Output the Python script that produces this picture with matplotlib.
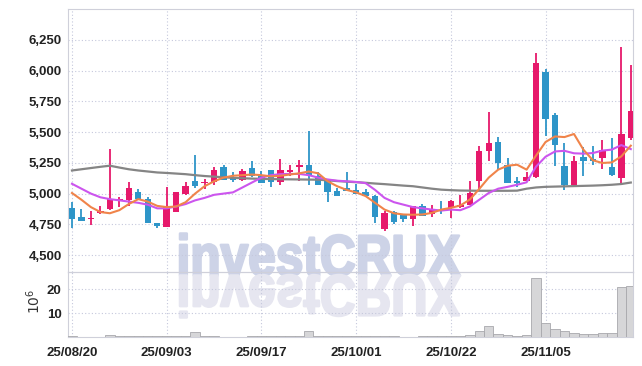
import numpy as np
import matplotlib
matplotlib.use("Agg")
from matplotlib import pyplot as plt
from matplotlib.textpath import TextPath
from matplotlib.patches import PathPatch
from matplotlib.font_manager import FontProperties
from matplotlib.transforms import Affine2D

# daily candles (KRW)
opens = [4886, 4813, 4797, 4845, 4878, 4937, 4946, 5016, 4959, 4764,
         4732, 4848, 5000, 5106, 5090, 5092, 5219, 5130, 5114, 5206,
         5146, 5195, 5092, 5173, 5214, 5230, 5141, 5114, 5024, 5046,
         5032, 5011, 4978, 4716, 4851, 4829, 4794, 4903, 4835, 4865,
         4886, 4892, 4911, 5106, 5344, 5417, 5235, 5100, 5100, 5133,
         5993, 5641, 5227, 5068, 5298, 5284, 5290, 5219, 5127, 5452]
closes = [4797, 4781, 4805, 4855, 4960, 4953, 5049, 4960, 4764, 4740,
          4894, 5011, 5060, 5065, 5097, 5195, 5114, 5114, 5187, 5141,
          5087, 5092, 5195, 5195, 5230, 5154, 5068, 5011, 4978, 5019,
          4997, 4978, 4808, 4843, 4767, 4791, 4903, 4821, 4876, 4857,
          4943, 4911, 5008, 5349, 5409, 5249, 5087, 5084, 5138, 6066,
          5611, 5398, 5068, 5268, 5262, 5268, 5357, 5154, 5487, 5676]
highs = [4935, 4878, 4862, 4897, 5365, 4976, 5097, 5041, 4976, 4764,
         5057, 5011, 5097, 5317, 5122, 5220, 5230, 5179, 5203, 5268,
         5181, 5195, 5282, 5235, 5276, 5506, 5176, 5114, 5046, 5176,
         5079, 5041, 4985, 4860, 4860, 4829, 4903, 4915, 4905, 4943,
         4950, 4992, 5100, 5384, 5663, 5460, 5290, 5135, 5176, 6142,
         6015, 5654, 5412, 5303, 5376, 5384, 5438, 5452, 6191, 6047]
lows = [4724, 4778, 4748, 4830, 4870, 4894, 4903, 4950, 4764, 4724,
        4732, 4848, 4985, 5049, 5041, 5073, 5114, 5097, 5106, 5133,
        5087, 5051, 5073, 5141, 5100, 5073, 5068, 4933, 4978, 5019,
        4997, 4978, 4762, 4694, 4755, 4765, 4740, 4821, 4810, 4838,
        4803, 4885, 4911, 5032, 5268, 5189, 5087, 5054, 5100, 5125,
        5465, 5227, 5032, 5068, 5141, 5230, 5200, 5141, 5068, 5440]

# moving averages as drawn
ma_short = [5005, 4950, 4890, 4850, 4840, 4865, 4915, 4955, 4935, 4900,
            4890, 4895, 4930, 5000, 5060, 5100, 5130, 5145, 5150, 5155,
            5150, 5140, 5145, 5155, 5165, 5180, 5165, 5100, 5060, 5030,
            5010, 4980, 4925, 4870, 4840, 4830, 4828, 4830, 4843, 4870,
            4884, 4903, 4951, 5038, 5130, 5195, 5227, 5235, 5195, 5310,
            5420, 5465, 5460, 5485, 5357, 5271, 5249, 5254, 5303, 5390]
ma_mid = [5080, 5040, 5000, 4970, 4955, 4945, 4935, 4925, 4910, 4880,
          4880, 4895, 4915, 4945, 4965, 4990, 5000, 5010, 5050, 5090,
          5130, 5150, 5158, 5160, 5160, 5150, 5130, 5115, 5105, 5100,
          5095, 5085, 5030, 4965, 4930, 4910, 4890, 4880, 4870, 4862,
          4870, 4865, 4895, 4950, 5005, 5040, 5055, 5072, 5092, 5220,
          5300, 5343, 5348, 5328, 5325, 5330, 5350, 5358, 5395, 5362]
ma_long = [5188, 5198, 5208, 5218, 5227, 5212, 5198, 5188, 5180, 5172,
           5168, 5163, 5158, 5150, 5143, 5138, 5133, 5128, 5125, 5122,
           5120, 5118, 5117, 5116, 5115, 5114, 5113, 5108, 5102, 5097,
           5093, 5088, 5082, 5077, 5071, 5065, 5060, 5050, 5040, 5032,
           5028, 5025, 5024, 5023, 5023, 5023, 5023, 5024, 5040, 5050,
           5055, 5057, 5059, 5061, 5063, 5065, 5068, 5072, 5078, 5090]

# volume, millions of shares
volumes = [0.3, 0.2, 0.2, 0.2, 0.9, 0.3, 0.3, 0.3, 0.4, 0.3,
           0.6, 0.4, 0.3, 2.2, 0.3, 0.3, 0.2, 0.2, 0.2, 0.3,
           0.3, 0.3, 0.6, 0.3, 0.4, 2.5, 0.5, 0.5, 0.6, 0.4,
           0.6, 0.3, 0.6, 0.4, 0.3, 0.2, 0.2, 0.3, 0.3, 0.3,
           0.4, 0.6, 0.9, 2.5, 4.6, 1.2, 0.8, 0.5, 0.8, 24.4,
           6.0, 3.3, 2.5, 1.6, 1.3, 1.3, 1.7, 1.7, 20.7, 21.2]

tick_pos = [0, 10, 20, 30, 40, 50]
tick_labels = ["25/08/20", "25/09/03", "25/09/17", "25/10/01", "25/10/22", "25/11/05"]
price_ticks = [4500, 4750, 5000, 5250, 5500, 5750, 6000, 6250]

UP = "#e6196b"
DOWN = "#2e95c8"
GRID = "#c5c8dc"
tick_font = {"family": ["Liberation Sans", "DejaVu Sans"], "weight": "bold"}

x = np.arange(len(opens))
o = np.array(opens)
c = np.array(closes)
colors = [UP if cc >= oo else DOWN for oo, cc in zip(o, c)]

fig = plt.figure(figsize=(6.42, 3.66), dpi=100)
ax = fig.add_axes([0.1059, 0.2568, 0.8796, 0.7186])
axv = fig.add_axes([0.1059, 0.0792, 0.8796, 0.1776], sharex=ax)
for a in (ax, axv):
    a.set_facecolor("none")
    for s in a.spines.values():
        s.set_color("#cfd0da")
        s.set_linewidth(0.8)
    a.grid(True, linestyle=(0, (1, 2)), color=GRID, linewidth=0.8)
    a.set_axisbelow(True)
    a.tick_params(length=0, labelsize=9.5, labelcolor="#222222")

# candles
ax.vlines(x, lows, highs, colors=colors, linewidth=1.3, zorder=3)
body = np.maximum(np.abs(c - o), 8)
ax.bar(x, body, bottom=np.minimum(o, c), width=0.68, color=colors, linewidth=0, zorder=3)

ax.plot(x, ma_long, color="#858585", linewidth=1.6, zorder=4)
ax.plot(x, ma_mid, color="#cc55ee", linewidth=1.5, zorder=4)
ax.plot(x, ma_short, color="#f0844a", linewidth=1.5, zorder=4)

ax.set_ylim(4362, 6502)
ax.set_yticks(price_ticks)
ax.set_yticklabels(["{:,}".format(p) for p in price_ticks], fontdict=tick_font)
ax.tick_params(axis="y", pad=4.5)
ax.tick_params(axis="x", labelbottom=False)

axv.bar(x, volumes, width=1.0, color="#d6d6d8", edgecolor="#a8a8ac", linewidth=0.6, zorder=3)
axv.set_ylim(0, 27.1)
axv.set_yticks([10, 20])
axv.set_yticklabels(["10", "20"], fontdict=tick_font)
axv.tick_params(axis="y", pad=4.5)
axv.set_xlim(-0.42, 59.2)
axv.set_xticks(tick_pos)
axv.set_xticklabels(tick_labels, fontdict=tick_font)
axv.tick_params(axis="x", pad=7)
fig.text(0.052, 0.177, r"$10^6$", rotation=90, fontsize=10, color="#333333",
         ha="center", va="center", family="DejaVu Serif")

# watermark with reflection
tp = TextPath((0, 0), "investCRUX", size=100,
              prop=FontProperties(family="Liberation Sans", weight="bold"))
bb = tp.get_extents()
sx = (4.60 - 1.80) / bb.width
sy = 0.42 / bb.y1
base = 0.905
t_up = Affine2D().translate(-bb.x0, 0).scale(sx, sy).translate(1.80, base)
t_dn = Affine2D().translate(-bb.x0, 0).scale(sx, -sy).translate(1.80, base)
fig.add_artist(PathPatch(tp, facecolor="#cdd3e7", edgecolor="#cdd3e7", linewidth=1.8,
                         joinstyle="round", transform=t_up + fig.dpi_scale_trans, zorder=-1))
fig.add_artist(PathPatch(tp, facecolor="#e6e6f0", edgecolor="#e6e6f0", linewidth=1.8,
                         joinstyle="round", transform=t_dn + fig.dpi_scale_trans, zorder=-1))

fig.savefig("out.png", dpi=100)
